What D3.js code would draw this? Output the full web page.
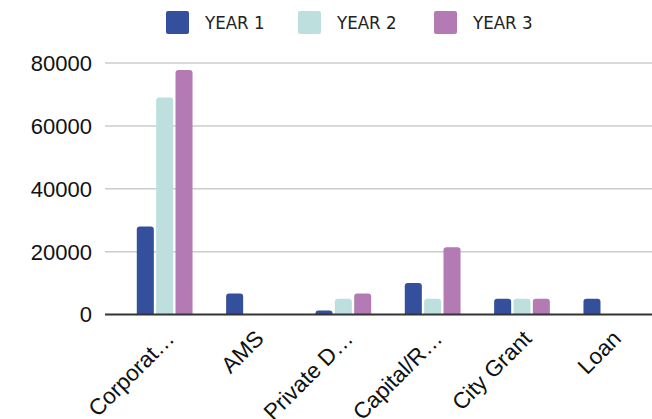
<!DOCTYPE html>
<html>
<head>
<meta charset="utf-8">
<script src="https://cdn.jsdelivr.net/npm/d3@7"></script>
<style>
  body { margin: 0; background: #fff; }
  svg { display: block; }
</style>
</head>
<body>
<div id="chart"></div>
<script>
// chart data
const categories = ["Corporat\u2026", "AMS", "Private D\u2026", "Capital/R\u2026", "City Grant", "Loan"];
const seriesNames = ["YEAR 1", "YEAR 2", "YEAR 3"];
const year1 = [28000, 6700, 1300, 10000, 5000, 5000];
const year2 = [69000, 0, 5000, 5000, 5000, 0];
const year3 = [77800, 0, 6700, 21400, 5000, 0];
const yTicks = [0, 20000, 40000, 60000, 80000];
const colors = ["#34509c", "#bde0de", "#b47ab4"];

const width = 652, height = 419;
const series = [year1, year2, year3];

const svg = d3.select("#chart").append("svg")
    .attr("width", width)
    .attr("height", height);

const y = d3.scaleLinear()
    .domain([0, 80000])
    .range([314.5, 63]);

const x = d3.scaleBand()
    .domain(categories)
    .range([120, 656])
    .paddingInner(0.376)
    .paddingOuter(0.188);

const xs = d3.scaleBand()
    .domain(seriesNames)
    .range([0, x.bandwidth()])
    .paddingInner(0.12);

// gridlines
svg.append("g")
    .selectAll("line")
    .data(yTicks.filter(d => d > 0))
    .join("line")
    .attr("x1", 105).attr("x2", width)
    .attr("y1", d => y(d)).attr("y2", d => y(d))
    .attr("stroke", "#cccccc")
    .attr("stroke-width", 1.5);

// y tick labels
svg.append("g")
    .selectAll("text")
    .data(yTicks)
    .join("text")
    .attr("x", 92)
    .attr("y", d => y(d))
    .attr("dy", "0.36em")
    .attr("text-anchor", "end")
    .attr("font-family", "Liberation Sans, Arial, sans-serif")
    .attr("font-size", 22)
    .attr("fill", "#111")
    .text(d => d);

// bars with rounded tops
function barPath(x0, w, yTop, yBase, r) {
    const h = yBase - yTop;
    r = Math.min(r, h, w / 2);
    return `M${x0},${yBase}V${yTop + r}Q${x0},${yTop} ${x0 + r},${yTop}H${x0 + w - r}Q${x0 + w},${yTop} ${x0 + w},${yTop + r}V${yBase}Z`;
}

const groups = svg.append("g")
    .selectAll("g")
    .data(categories)
    .join("g")
    .attr("transform", d => `translate(${x(d)},0)`);

groups.selectAll("path")
    .data((d, i) => series.map((s, k) => ({ name: seriesNames[k], value: s[i], k })))
    .join("path")
    .filter(d => d.value > 0)
    .attr("d", d => barPath(xs(d.name), xs.bandwidth(), y(d.value), y(0), 3))
    .attr("fill", d => colors[d.k]);

// baseline
svg.append("line")
    .attr("x1", 105).attr("x2", width)
    .attr("y1", y(0)).attr("y2", y(0))
    .attr("stroke", "#333")
    .attr("stroke-width", 2);

// x labels, rotated
svg.append("g")
    .selectAll("text")
    .data(categories)
    .join("text")
    .attr("transform", d => `translate(${x(d) + x.bandwidth() / 2 + 11},340) rotate(-45)`)
    .attr("text-anchor", "end")
    .attr("font-family", "Liberation Sans, Arial, sans-serif")
    .attr("font-size", 22.5)
    .attr("fill", "#111")
    .text(d => d);

// legend
const legendX = [166, 298, 434];
const legend = svg.append("g")
    .selectAll("g")
    .data(seriesNames)
    .join("g")
    .attr("transform", (d, i) => `translate(${legendX[i]},11)`);

legend.append("rect")
    .attr("width", 23).attr("height", 23)
    .attr("rx", 2)
    .attr("fill", (d, i) => colors[i]);

legend.append("text")
    .attr("x", 39)
    .attr("y", 11.5)
    .attr("dy", "0.36em")
    .attr("font-family", "DejaVu Sans Condensed, DejaVu Sans, sans-serif")
    .attr("font-size", 18.5)
    .attr("fill", "#222")
    .text(d => d);
</script>
</body>
</html>
